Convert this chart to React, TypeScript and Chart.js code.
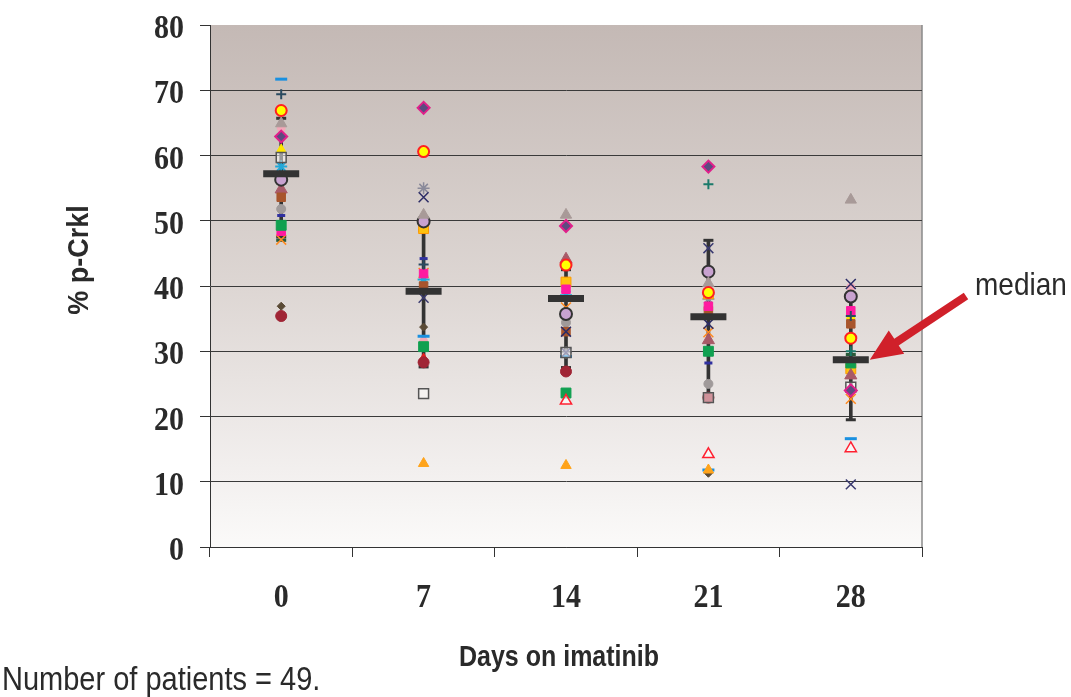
import React, { useEffect, useRef } from "react";
import { Chart, registerables } from "chart.js";
Chart.register(...registerables);

// ---- data ----
const days = ["0", "7", "14", "21", "28"];
const yTicks = [0, 10, 20, 30, 40, 50, 60, 70, 80];

// one series per patient marker (value per day, null = not visible)
const magentaDiamond = [62.9, 67.3, 49.2, 58.3, 24.0];
const yellowCircle = [66.9, 60.6, 43.2, 39.0, 32.0];
const grayTriangle = [64.9, 50.9, 50.9, 40.4, 53.2];
const orangeTriangle = [null, 12.8, 12.5, 11.8, null];
const redOpenTriangle = [null, null, 22.4, 14.2, 15.1];
const openSquare = [59.7, 23.5, 29.8, 22.9, 24.5];
const darkBlueX = [null, 53.6, 33.0, 34.2, 40.3];
const darkBlueX2 = [null, 38.2, 29.8, 45.8, 9.6];
const lilacCircle = [56.3, 49.9, 35.7, 42.2, 38.4];
const blueDash = [71.7, 32.3, 29.2, 11.8, 16.6];
const darkPlus = [69.4, 43.3, null, null, 35.4];
const tealPlus = [null, null, null, 55.6, 30.0];
const greenSquare = [49.3, 30.7, 23.6, 30.0, 28.2];
const magentaSquare = [48.4, 41.9, 39.5, 36.9, 36.2];
const brownSquare = [53.6, 40.0, 33.0, 36.2, 34.2];
const darkPinkTriangle = [54.8, null, 44.1, 31.7, 26.3];
const orangeX = [47.1, 42.0, 36.7, 32.9, 22.7];
const grayCircle = [51.8, null, 34.4, 25.0, null];
const darkRedCircle = [35.4, 28.3, 26.9, 22.9, null];
const darkDiamond = [36.9, 33.7, null, 11.3, null];
const yellowSquare = [null, 48.8, 40.6, 38.8, 27.3];
const yellowTriangle = [61.0, null, null, null, 35.4];
const grayAsterisk = [null, 55.0, 29.8, 38.0, null];
const redTriangle = [null, 28.8, null, null, null];
const darkGreenDash = [47.0, null, null, null, 29.5];
const navyDash = [50.8, 44.2, 42.8, 28.2, null];
const cyanStar = [58.3, 41.0, 38.6, 38.8, null];
const pinkCircle = [64.2, 31.5, null, null, 39.8];

const medians = [57.2, 39.2, 38.1, 35.3, 28.7];
const errHigh = [65.7, 48.5, 42.5, 47.0, 38.5];
const errLow = [47.5, 27.6, 27.5, 23.2, 19.5];

// ---- styles (kept apart from data) ----
type Sty = { ps: string; r: number; bg: string; bd: string; bw: number };
const series: [Array<number | null>, Sty][] = [
  [magentaDiamond, { ps: "rectRot", r: 6, bg: "#5c4a80", bd: "#e0208a", bw: 2 }],
  [yellowCircle, { ps: "circle", r: 5.5, bg: "#ffff00", bd: "#ff2020", bw: 2 }],
  [grayTriangle, { ps: "triangle", r: 6.5, bg: "#a89a98", bd: "#a89a98", bw: 1 }],
  [orangeTriangle, { ps: "triangle", r: 6, bg: "#ffa31a", bd: "#ffa31a", bw: 1 }],
  [redOpenTriangle, { ps: "triangle", r: 6.5, bg: "rgba(255,255,255,0.6)", bd: "#ff2030", bw: 1.5 }],
  [openSquare, { ps: "rect", r: 7, bg: "rgba(255,255,255,0.5)", bd: "#555555", bw: 1.5 }],
  [darkBlueX, { ps: "crossRot", r: 7, bg: "#2c2c66", bd: "#2c2c66", bw: 1.5 }],
  [darkBlueX2, { ps: "crossRot", r: 7, bg: "#3a3a70", bd: "#3a3a70", bw: 1.5 }],
  [lilacCircle, { ps: "circle", r: 6, bg: "#c8a2d0", bd: "#333333", bw: 2 }],
  [blueDash, { ps: "line", r: 6, bg: "#1a90e0", bd: "#1a90e0", bw: 3 }],
  [darkPlus, { ps: "cross", r: 5, bg: "#2a4a60", bd: "#2a4a60", bw: 2 }],
  [tealPlus, { ps: "cross", r: 5, bg: "#1a7a6a", bd: "#1a7a6a", bw: 2 }],
  [greenSquare, { ps: "rect", r: 7, bg: "#10a050", bd: "#10a050", bw: 1 }],
  [magentaSquare, { ps: "rect", r: 6, bg: "#ff1aa0", bd: "#ff1aa0", bw: 1 }],
  [brownSquare, { ps: "rect", r: 6, bg: "#a8552c", bd: "#a8552c", bw: 1 }],
  [darkPinkTriangle, { ps: "triangle", r: 7, bg: "#a85a68", bd: "#a85a68", bw: 1 }],
  [orangeX, { ps: "crossRot", r: 7, bg: "#ff8a20", bd: "#ff8a20", bw: 1.5 }],
  [grayCircle, { ps: "circle", r: 4.5, bg: "#a09a9a", bd: "#a09a9a", bw: 1 }],
  [darkRedCircle, { ps: "circle", r: 5.5, bg: "#a02535", bd: "#a02535", bw: 1 }],
  [darkDiamond, { ps: "rectRot", r: 4, bg: "#5a4a35", bd: "#5a4a35", bw: 1 }],
  [yellowSquare, { ps: "rect", r: 7, bg: "#ffc20e", bd: "#ff9900", bw: 1 }],
  [yellowTriangle, { ps: "triangle", r: 5, bg: "#ffe600", bd: "#ffe600", bw: 1 }],
  [grayAsterisk, { ps: "star", r: 6, bg: "#8a8a9a", bd: "#8a8a9a", bw: 1.5 }],
  [redTriangle, { ps: "triangle", r: 6, bg: "#e82020", bd: "#e82020", bw: 1 }],
  [darkGreenDash, { ps: "line", r: 5, bg: "#2a5a3a", bd: "#2a5a3a", bw: 3 }],
  [navyDash, { ps: "line", r: 4, bg: "#3030a0", bd: "#3030a0", bw: 3 }],
  [cyanStar, { ps: "star", r: 6, bg: "#22a8d8", bd: "#22a8d8", bw: 2 }],
  [pinkCircle, { ps: "circle", r: 4, bg: "#f2a8b8", bd: "#f2a8b8", bw: 1 }],
];

const W = 1071;
const H = 697;
const STRETCH = 1.15;
const SERIF = '"Liberation Serif", "Times New Roman", serif';
const SANS = '"Liberation Sans", Arial, sans-serif';

function stretchedText(ctx: any, text: string, x: number, y: number, font: string, align: string) {
  ctx.save();
  ctx.translate(x, y);
  ctx.scale(1, STRETCH);
  ctx.font = font;
  ctx.textAlign = align;
  ctx.textBaseline = "alphabetic";
  ctx.fillText(text, 0, 0);
  ctx.restore();
}

const decoPlugin = {
  id: "deco",
  beforeDraw(chart: any) {
    const { ctx, chartArea: a } = chart;
    const g = ctx.createLinearGradient(0, a.top, 0, a.bottom);
    g.addColorStop(0, "#c4b9b5");
    g.addColorStop(0.5, "#ddd6d3");
    g.addColorStop(0.85, "#f2efee");
    g.addColorStop(1, "#fbfaf9");
    ctx.save();
    ctx.fillStyle = g;
    ctx.fillRect(a.left, a.top, a.right - a.left, a.bottom - a.top);
    ctx.strokeStyle = "#8a8a8a";
    ctx.lineWidth = 1.5;
    ctx.beginPath();
    ctx.moveTo(a.right, a.top);
    ctx.lineTo(a.right, a.bottom);
    ctx.stroke();
    ctx.restore();
  },
  afterDraw(chart: any) {
    const { ctx } = chart;
    const xs = chart.scales.x;
    const ys = chart.scales.y;
    ctx.save();
    ctx.fillStyle = "#2a2a2a";
    // tick labels
    yTicks.forEach((v) => {
      stretchedText(ctx, String(v), 184, ys.getPixelForValue(v) + 13, `bold 30px ${SERIF}`, "right");
    });
    days.forEach((d, i) => {
      stretchedText(ctx, d, xs.getPixelForValue(i), 607, `bold 30px ${SERIF}`, "center");
    });
    // y title
    ctx.save();
    ctx.translate(80, 260);
    ctx.rotate(-Math.PI / 2);
    ctx.scale(1, 1.1);
    ctx.textAlign = "center";
    ctx.textBaseline = "middle";
    ctx.font = `bold 27px ${SANS}`;
    ctx.fillText("% p-Crkl", 0, 0);
    ctx.restore();
    // x title
    stretchedText(ctx, "Days on imatinib", 559, 666, `bold 25px ${SANS}`, "center");
    // note
    stretchedText(ctx, "Number of patients = 49.", 2, 690, `29px ${SANS}`, "left");
    // median label
    stretchedText(ctx, "median", 975, 295, `28px ${SANS}`, "left");
    // arrow
    const tipX = xs.getPixelForValue(4) + 19;
    const tipY = ys.getPixelForValue(medians[4]);
    const tailX = 966;
    const tailY = 296;
    const dx = tipX - tailX;
    const dy = tipY - tailY;
    const len = Math.hypot(dx, dy);
    const ux = dx / len;
    const uy = dy / len;
    const nx = -uy;
    const ny = ux;
    const headLen = 32;
    const headHalf = 14;
    const shaftHalf = 4;
    const bx = tipX - ux * headLen;
    const by = tipY - uy * headLen;
    ctx.fillStyle = "#d0202a";
    ctx.beginPath();
    ctx.moveTo(tailX + nx * shaftHalf, tailY + ny * shaftHalf);
    ctx.lineTo(bx + nx * shaftHalf, by + ny * shaftHalf);
    ctx.lineTo(bx + nx * headHalf, by + ny * headHalf);
    ctx.lineTo(tipX, tipY);
    ctx.lineTo(bx - nx * headHalf, by - ny * headHalf);
    ctx.lineTo(bx - nx * shaftHalf, by - ny * shaftHalf);
    ctx.lineTo(tailX - nx * shaftHalf, tailY - ny * shaftHalf);
    ctx.closePath();
    ctx.fill();
    ctx.restore();
  },
};

export default function App() {
  const ref = useRef<HTMLCanvasElement | null>(null);
  useEffect(() => {
    if (!ref.current) return;
    const patientSets = series.map(([vals, s], i) => ({
      type: "line" as const,
      label: "p" + i,
      data: vals,
      showLine: false,
      pointStyle: s.ps,
      pointRadius: s.r,
      pointBackgroundColor: s.bg,
      pointBorderColor: s.bd,
      pointBorderWidth: s.bw,
      order: 1,
    }));
    const chart = new Chart(ref.current, {
      type: "bar",
      data: {
        labels: days,
        datasets: [
          {
            type: "bar" as const,
            label: "sd",
            data: errLow.map((l, i) => [l, errHigh[i]]) as any,
            backgroundColor: "#333333",
            barThickness: 3,
            order: 3,
          },
          {
            type: "line" as const,
            label: "hi",
            data: errHigh,
            showLine: false,
            pointStyle: "line",
            pointRadius: 5,
            pointBorderWidth: 3,
            pointBorderColor: "#333333",
            order: 2,
          },
          {
            type: "line" as const,
            label: "lo",
            data: errLow,
            showLine: false,
            pointStyle: "line",
            pointRadius: 5,
            pointBorderWidth: 3,
            pointBorderColor: "#333333",
            order: 2,
          },
          ...patientSets,
          {
            type: "line" as const,
            label: "median",
            data: medians,
            showLine: false,
            pointStyle: "line",
            pointRadius: 18,
            pointBorderWidth: 7,
            pointBorderColor: "#333333",
            order: 0,
          },
        ] as any,
      },
      options: {
        responsive: false,
        animation: false,
        layout: { padding: { top: 23, right: 149, left: 0, bottom: 0 } },
        plugins: { legend: { display: false }, tooltip: { enabled: false } },
        scales: {
          x: {
            type: "category",
            offset: true,
            grid: {
              offset: true,
              drawOnChartArea: false,
              drawTicks: true,
              tickLength: 10,
              tickColor: "#333333",
            },
            border: { color: "#333333", width: 1 },
            ticks: { display: false },
            afterFit: (s: any) => {
              s.height = 150;
            },
          },
          y: {
            min: 0,
            max: 80,
            afterBuildTicks: (s: any) => {
              s.ticks = yTicks.map((v) => ({ value: v }));
            },
            grid: {
              color: (c: any) => (c.tick && c.tick.value === 80 ? "rgba(0,0,0,0)" : "#3a3a3a"),
              lineWidth: 1,
              drawTicks: true,
              tickLength: 10,
              tickColor: "#333333",
            },
            border: { color: "#333333", width: 1 },
            ticks: { display: false },
            afterFit: (s: any) => {
              s.width = 210;
            },
          },
        },
      } as any,
      plugins: [decoPlugin],
    });
    return () => chart.destroy();
  }, []);
  return (
    <div style={{ position: "fixed", left: 0, top: 0, width: W, height: H, background: "#ffffff" }}>
      <canvas ref={ref} width={W} height={H} style={{ width: W, height: H, display: "block" }} />
    </div>
  );
}
